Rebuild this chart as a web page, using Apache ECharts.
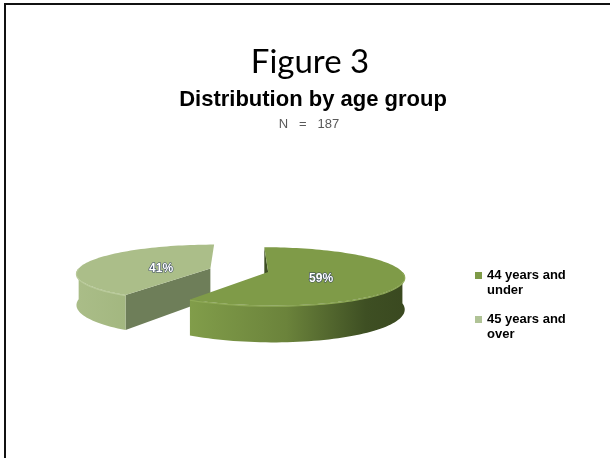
<!DOCTYPE html>
<html>
<head>
<meta charset="utf-8">
<script src="https://cdn.jsdelivr.net/npm/echarts@6/dist/echarts.min.js"></script>
<style>
  html, body { margin: 0; padding: 0; background: #fff; }
  #chart { width: 610px; height: 458px; }
</style>
</head>
<body>
<div id="chart"></div>
<script>
// ---- data ----
const categories = ['44 years and under', '45 years and over'];
const values = [59, 41];
const titleText = 'Figure 3';
const subtitleText = 'Distribution by age group';
const noteText = 'N = 187';

// ---- geometry / style (not data) ----
// simple perspective model: world radius 1, pixel scale R, vertical squash S, perspective K
const CX = 239, CY = 270.2, R = 133, S = 0.21, K = 0.15, DEPTH = 31, EXPLODE = 0.226;
const styles = [
  { top: '#7F9B48', edge: '#8FAA57', wallStops: [[0, '#819D4A'], [0.45, '#6B833B'], [0.82, '#3E4F23'], [1, '#3A4920']],
    cutStart: '#3E4F23', legend: '#7E9A47' },
  { top: '#ABBE89', edge: '#B9CA9A', wallStops: [[0, '#AABD88'], [1, '#A3B780']],
    cutStart: '#6E7E59', legend: '#B0C396' }
];

const total = values.reduce((a, b) => a + b, 0);
const angles = [];
let acc = 0;
values.forEach(v => { const s = acc; acc += v; angles.push([s / total * 360, acc / total * 360]); });

function makeRender(idx) {
  return function (params, api) {
    const a0 = api.value(0) * Math.PI / 180;
    const a1 = api.value(1) * Math.PI / 180;
    const v = api.value(2);
    const st = styles[idx];
    const bis = (a0 + a1) / 2;
    const ox = EXPLODE * Math.sin(bis), oz = EXPLODE * Math.cos(bis);
    // project world point (X, D depth-back, H down in px)
    const proj = (X, D, H) => {
      const f = 1 / (1 + K * D);
      return [CX + R * X * f, CY + f * (-R * S * D + H)];
    };
    const rim = (t, h) => proj(ox + Math.sin(t), oz + Math.cos(t), h);
    const apex = (h) => proj(ox, oz, h);
    const arc = (s, e, h) => {
      const pts = [];
      const n = Math.max(2, Math.ceil((e - s) / (Math.PI / 90)));
      for (let k = 0; k <= n; k++) pts.push(rim(s + (e - s) * k / n, h));
      return pts;
    };
    const children = [];
    // radial face at the start edge (the one facing the camera)
    children.push({ type: 'polygon', shape: { points: [apex(0), rim(a0, 0), rim(a0, DEPTH), apex(DEPTH)] },
      style: { fill: st.cutStart } });
    // outer wall (front-facing part)
    const ws = Math.max(a0, Math.PI / 2), we = Math.min(a1, 3 * Math.PI / 2);
    if (we > ws) {
      const topPts = arc(ws, we, 0);
      const botPts = arc(ws, we, DEPTH).reverse();
      children.push({ type: 'polygon', shape: { points: topPts.concat(botPts) },
        style: { fill: { type: 'linear', x: 0, y: 0, x2: 1, y2: 0, global: false,
          colorStops: st.wallStops.map(s => ({ offset: s[0], color: s[1] })) } } });
    }
    // top face
    children.push({ type: 'polygon', shape: { points: [apex(0)].concat(arc(a0, a1, 0)) },
      style: { fill: st.top } });
    // soft highlight on the front rim
    if (we > ws) {
      children.push({ type: 'polyline', shape: { points: arc(ws, we, 0.6) },
        style: { stroke: st.edge, lineWidth: 1.2, fill: null } });
    }
    // label
    const lp = proj(ox + 0.4 * Math.sin(bis), oz + 0.4 * Math.cos(bis), 3);
    children.push({ type: 'text', style: { text: Math.round(v / total * 100) + '%', x: lp[0], y: lp[1],
      fill: '#ffffff', stroke: 'rgba(40,55,95,0.85)', lineWidth: 1.2,
      font: 'bold 12px "Liberation Sans", Arial, sans-serif', align: 'center', verticalAlign: 'middle' } });
    return { type: 'group', children: children };
  };
}

// draw back slice first
const order = [1, 0];
const series = order.map(i => ({
  type: 'custom',
  name: categories[i],
  coordinateSystem: 'none',
  itemStyle: { color: styles[i].legend },
  renderItem: makeRender(i),
  data: [[angles[i][0], angles[i][1], values[i]]],
  silent: true
}));

const chart = echarts.init(document.getElementById('chart'), null, { renderer: 'canvas' });
chart.setOption({
  backgroundColor: '#ffffff',
  animation: false,
  title: [
    { text: titleText, left: 310, top: 46, padding: 0, textAlign: 'center',
      textStyle: { fontFamily: 'Lato', fontWeight: 'normal', fontSize: 33, color: '#000' } },
    { text: subtitleText, left: 313, top: 89, padding: 0, textAlign: 'center',
      textStyle: { fontFamily: '"Liberation Sans", Arial', fontWeight: 'bold', fontSize: 22, color: '#000' } },
    { text: noteText.split(' ').join('   '), left: 309, top: 118, padding: 0, textAlign: 'center',
      textStyle: { fontFamily: '"Liberation Sans", Arial', fontWeight: 'normal', fontSize: 13, color: '#595959' } }
  ],
  legend: {
    data: categories,
    orient: 'vertical',
    left: 470, top: 263,
    icon: 'path://M0,0L7,0Z M0,4H7V11H0Z M0,30L7,30Z',
    itemWidth: 7, itemHeight: 30,
    itemGap: 14,
    selectedMode: false,
    formatter: name => name.replace(/ (under|over)$/, '\n$1'),
    textStyle: { fontFamily: '"Liberation Sans", Arial', fontWeight: 'bold', fontSize: 13,
      lineHeight: 15, color: '#000' }
  },
  graphic: [
    { type: 'line', shape: { x1: 4, y1: 4, x2: 610, y2: 4 }, style: { stroke: '#111', lineWidth: 2 } },
    { type: 'line', shape: { x1: 5, y1: 3, x2: 5, y2: 458 }, style: { stroke: '#111', lineWidth: 2 } }
  ],
  series: series
});
</script>
</body>
</html>
